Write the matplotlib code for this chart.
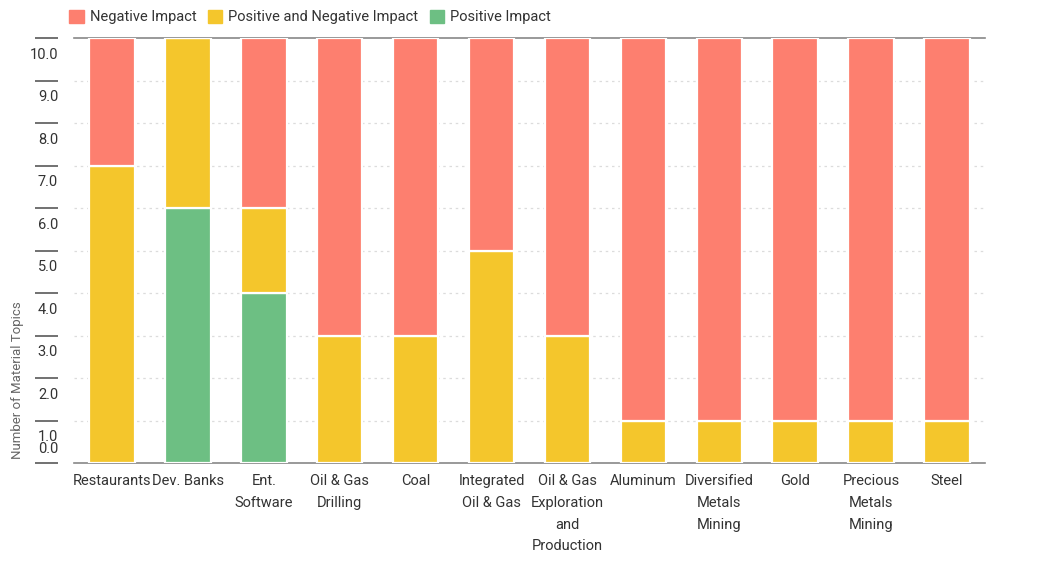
import matplotlib
matplotlib.use("Agg")
import matplotlib.pyplot as plt
import matplotlib.transforms as mtransforms
from matplotlib.patches import Patch
import numpy as np

plt.rcParams['font.family'] = ['Roboto', 'DejaVu Sans']

categories = ["Restaurants", "Dev. Banks", "Ent.\nSoftware", "Oil & Gas\nDrilling", "Coal",
              "Integrated\nOil & Gas", "Oil & Gas\nExploration\nand\nProduction", "Aluminum",
              "Diversified\nMetals\nMining", "Gold", "Precious\nMetals\nMining", "Steel"]
positive = [0, 6, 4, 0, 0, 0, 0, 0, 0, 0, 0, 0]
pos_neg = [7, 4, 2, 3, 3, 5, 3, 1, 1, 1, 1, 1]
negative = [3, 0, 4, 7, 7, 5, 7, 9, 9, 9, 9, 9]
yticks = [0, 1, 2, 3, 4, 5, 6, 7, 8, 9, 10]
series_names = ["Negative Impact", "Positive and Negative Impact", "Positive Impact"]

c_neg = "#FD7F6F"
c_mix = "#F4C62C"
c_pos = "#6DBF83"

fig = plt.figure(figsize=(10.41, 5.74), dpi=100)
ax = fig.add_axes([74/1041, 1-463/574, 911/1041, 425/574])

x = np.arange(len(categories))
pos = np.array(positive, float)
mix = np.array(pos_neg, float)
neg = np.array(negative, float)
w = 0.6
kw = dict(width=w, edgecolor="white", linewidth=1.6, zorder=3)
ax.bar(x, pos, color=c_pos, **kw)
ax.bar(x, mix, bottom=pos, color=c_mix, **kw)
ax.bar(x, neg, bottom=pos + mix, color=c_neg, **kw)

ax.set_xlim(-0.5, 11.5)
ax.set_ylim(0, 10)
ax.set_yticks(yticks)
for v in yticks[1:-1]:
    ax.axhline(v, color="#dcdcdc", lw=0.9, ls=(0, (2, 3)), zorder=1)

ax.spines["right"].set_visible(False)
ax.spines["top"].set_color("#888888")
ax.spines["top"].set_linewidth(1.2)
ax.spines["bottom"].set_color("#888888")
ax.spines["bottom"].set_linewidth(1.2)
ax.spines["left"].set_position(("outward", 11.5))
ax.spines["left"].set_color("none")

ax.tick_params(axis="y", length=16.5, width=1.3, color="#666666", direction="out", pad=-16.5,
               labelsize=10.5, labelcolor="#333333")
ax.set_yticklabels([f"{v:.1f}" for v in yticks])
for lbl, v in zip(ax.get_yticklabels(), yticks):
    dy = 11/72 if v == 0 else -11/72
    lbl.set_transform(lbl.get_transform() + mtransforms.ScaledTranslation(0, dy, fig.dpi_scale_trans))

ax.set_xticks(x)
ax.set_xticklabels(categories, fontsize=10.5, color="#333333", linespacing=1.7, va="top")
ax.tick_params(axis="x", length=0, pad=8)

fig.text(18/1041, 1-380/574, "Number of Material Topics", rotation=90, ha="center", va="center",
         fontsize=9.5, color="#666666")

handles = [Patch(color=c_neg), Patch(color=c_mix), Patch(color=c_pos)]
fig.legend(handles, series_names, loc="center left", bbox_to_anchor=(56/1041, 1-17/574),
           ncol=3, frameon=False, fontsize=10.5, handlelength=1.0, handleheight=1.0,
           handletextpad=0.4, columnspacing=0.8, labelcolor="#333333")

fig.savefig("out.png", dpi=100)
